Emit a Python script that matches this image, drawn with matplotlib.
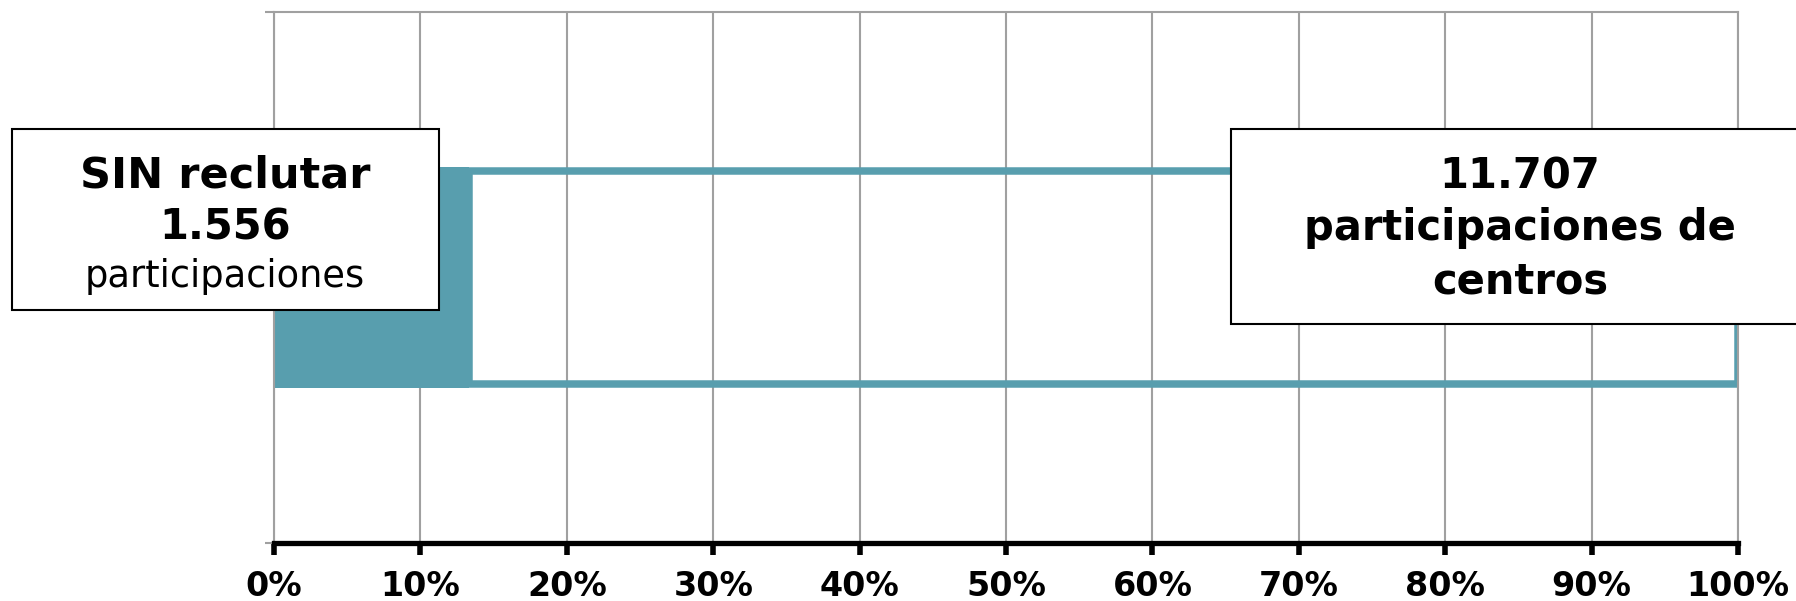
import matplotlib.pyplot as plt
from matplotlib.patches import Rectangle

# datos
sin_reclutar = 1556
total_centros = 11707
segment_values = [sin_reclutar, total_centros - sin_reclutar]
segment_share = [v / total_centros for v in segment_values]

x_ticks = [i / 10 for i in range(11)]
x_tick_labels = [f'{i * 10}%' for i in range(11)]

left_lines = ['SIN reclutar', '1.556', 'participaciones']
right_lines = ['11.707', 'participaciones de', 'centros']

teal = '#589EAE'
grid_gray = '#A0A0A0'

fig = plt.figure(figsize=(17.96, 6.01), dpi=100)
ax = fig.add_axes([0.1526, 0.0965, 0.8151, 0.8835])

bar_h = 0.416
ax.barh(0, segment_share[0], height=bar_h, color=teal, edgecolor='none', zorder=2)
# contorno del resto (sin relleno), un poco más bajo para que el borde quede dentro
ax.barh(0, segment_share[1], left=segment_share[0], height=bar_h - 0.014,
        facecolor='none', edgecolor=teal, linewidth=5.4, zorder=2)

ax.set_xlim(0, 1)
ax.set_ylim(-0.5, 0.5)
ax.set_xticks(x_ticks, x_tick_labels, fontsize=24, fontweight='bold')
ax.set_yticks([-0.5, 0.5], ['', ''])
ax.tick_params(axis='y', length=6.5, width=1.5, color=grid_gray, direction='out')
ax.tick_params(axis='x', length=8.4, width=4, color='black', direction='out', pad=11)
ax.grid(axis='x', color=grid_gray, linewidth=1.5)
ax.set_axisbelow(True)
for side in ['top', 'right', 'left']:
    ax.spines[side].set_color(grid_gray)
    ax.spines[side].set_linewidth(1.5)
ax.spines['bottom'].set_color('black')
ax.spines['bottom'].set_linewidth(3.8)

# cuadros de texto
W, H = 1796, 601


def box(x0, y0, x1, y1):
    fig.patches.append(Rectangle((x0 / W, 1 - y1 / H), (x1 - x0) / W, (y1 - y0) / H,
                                 transform=fig.transFigure, facecolor='white',
                                 edgecolor='black', linewidth=1.5, zorder=5))


box(11.5, 129, 439, 310)
box(1231, 129, 1812, 324)

left_base = [188, 240, 287]
left_weight = ['bold', 'bold', 'normal']
left_size = [31, 30, 26.5]
for line, yb, wt, fs in zip(left_lines, left_base, left_weight, left_size):
    fig.text(225 / W, 1 - yb / H, line, ha='center', va='baseline',
             fontsize=fs, fontweight=wt, zorder=6)

right_base = [189, 240, 293]
for line, yb in zip(right_lines, right_base):
    fig.text(1520 / W, 1 - yb / H, line, ha='center', va='baseline',
             fontsize=30, fontweight='bold', zorder=6)

fig.savefig('out.png', dpi=100)
